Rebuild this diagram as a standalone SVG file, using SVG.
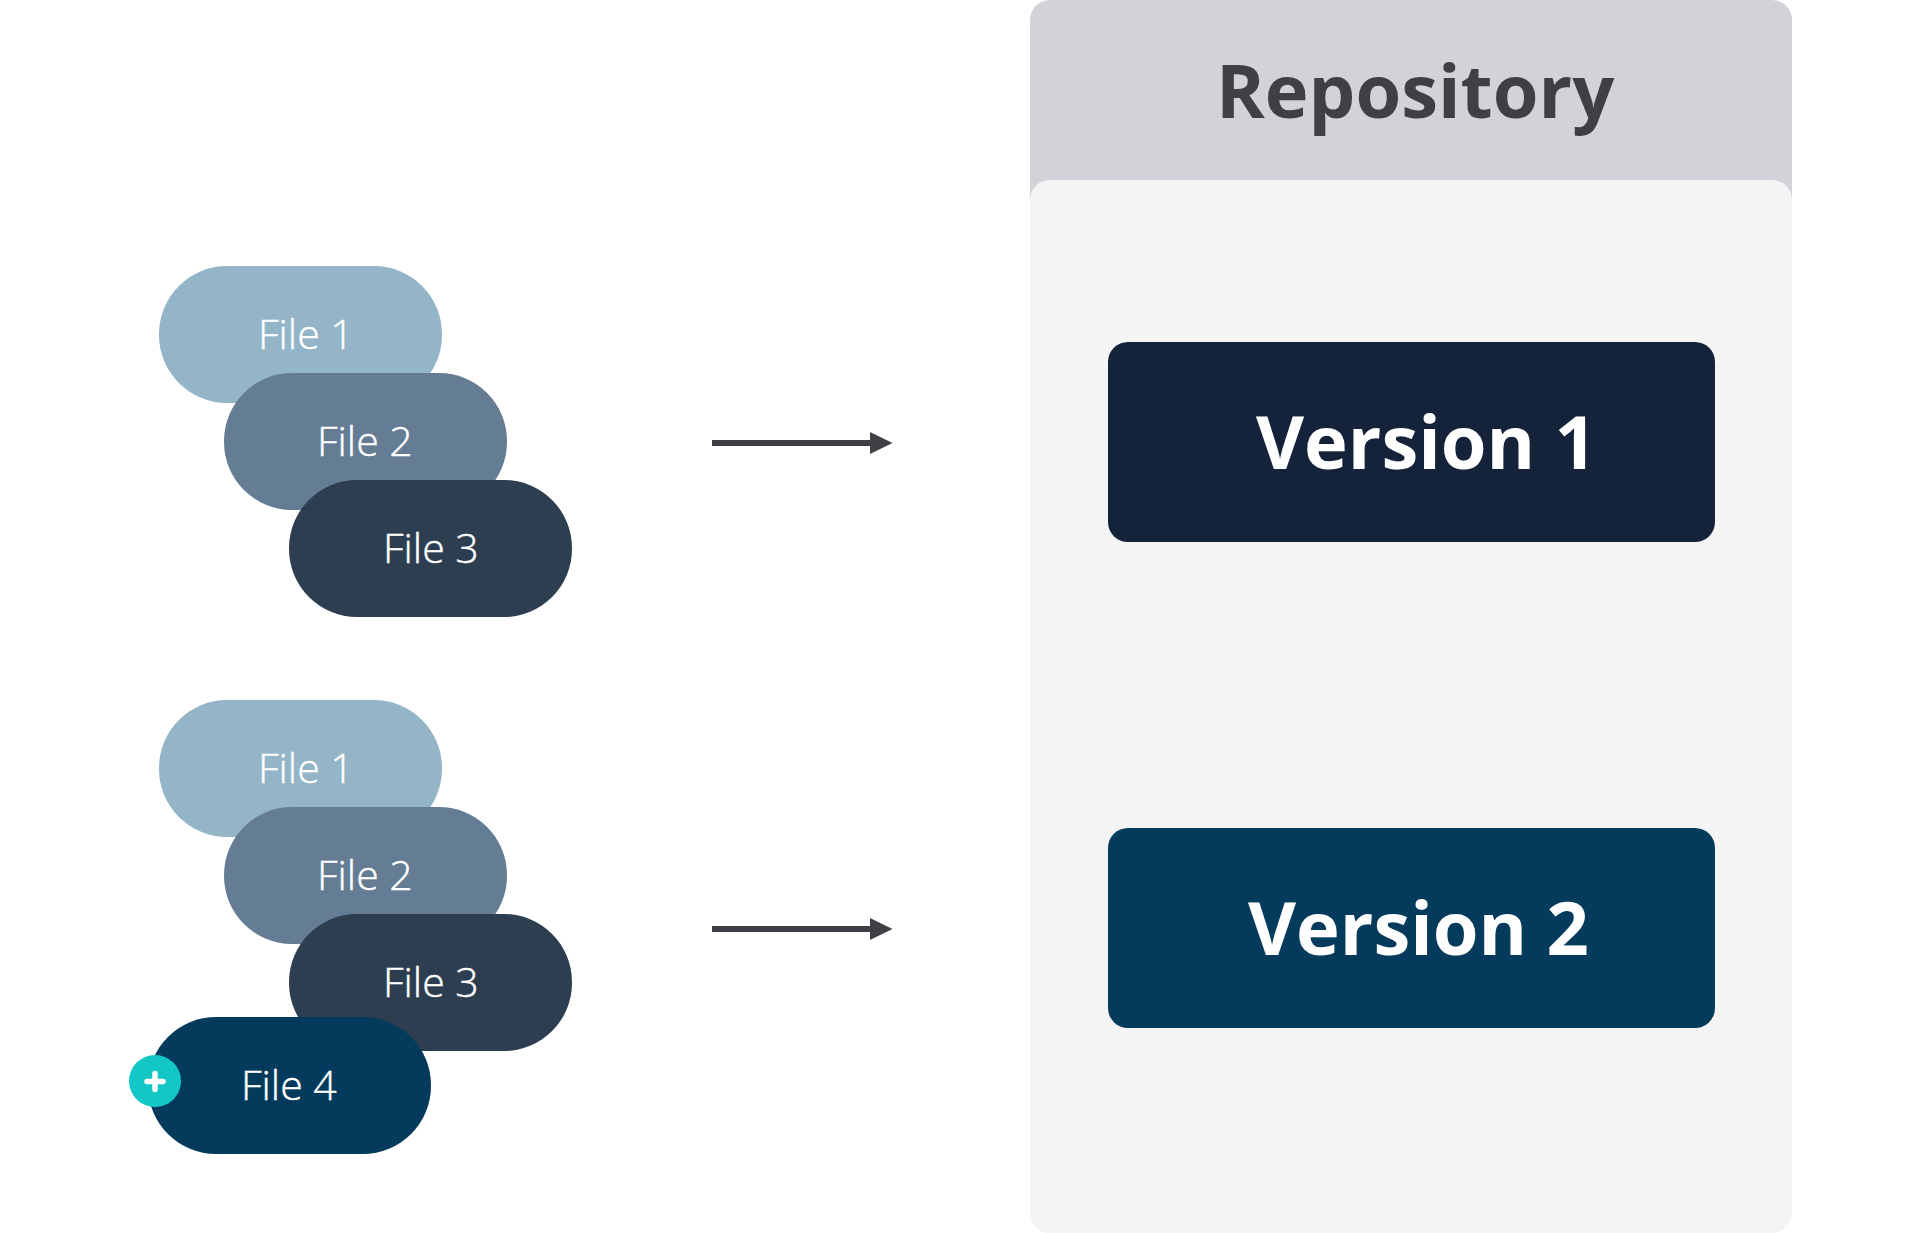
<svg xmlns="http://www.w3.org/2000/svg" width="1920" height="1233" viewBox="0 0 1920 1233">
<style>
text{font-family:"Open Sans","Noto Sans",sans-serif}
.file{font-size:41px;font-weight:300;fill:#fff;stroke:#fff;stroke-width:.4px}
.big{font-size:74px;font-weight:700}
.pill{width:283px;height:137px}
.conn{stroke:#3f3f46;stroke-width:6;fill:none}
</style>
<defs>
<marker id="arrow" markerUnits="userSpaceOnUse" markerWidth="23" markerHeight="22" refX="1" refY="11" orient="auto"><path d="M0 0L22.5 11L0 22Z" fill="#3f3f46"/></marker>
</defs>
<rect width="1920" height="1233" fill="#fff"/>
<g id="repository">
<rect x="1030" y="0" width="762" height="240" rx="20" ry="20" fill="#d2d2d8"/>
<rect x="1030" y="180" width="762" height="1053" rx="20" ry="20" fill="#f4f4f4"/>
<text class="big" x="1216" y="118" fill="#3f3f46">Repository</text>
</g>
<g id="file1a"><rect class="pill" x="159" y="266" rx="68" ry="68" fill="#94b4c8"/><text class="file" x="258" y="349">File 1</text></g>
<g id="file2a"><rect class="pill" x="224" y="373" rx="68" ry="68" fill="#647d94"/><text class="file" x="317" y="456">File 2</text></g>
<g id="file3a"><rect class="pill" x="289" y="480" rx="68" ry="68" fill="#2d3e50"/><text class="file" x="383" y="563">File 3</text></g>
<g id="file1b"><rect class="pill" x="159" y="700" rx="68" ry="68" fill="#94b4c8"/><text class="file" x="258" y="783">File 1</text></g>
<g id="file2b"><rect class="pill" x="224" y="807" rx="68" ry="68" fill="#647d94"/><text class="file" x="317" y="890">File 2</text></g>
<g id="file3b"><rect class="pill" x="289" y="914" rx="68" ry="68" fill="#2d3e50"/><text class="file" x="383" y="997">File 3</text></g>
<g id="file4"><rect class="pill" x="148" y="1017" rx="68" ry="68" fill="#043b5c"/><text class="file" x="241" y="1100">File 4</text>
<circle cx="155" cy="1081" r="26" fill="#13c7c7"/>
<path d="M147 1081.5H163M155 1073.5V1089.5" stroke="#fff" stroke-width="5.5" stroke-linecap="round" fill="none"/></g>
<g id="version1"><rect x="1108" y="342" width="607" height="200" rx="20" ry="20" fill="#14233a"/><text class="big" x="1256" y="469" fill="#fff">Version 1</text></g>
<g id="version2"><rect x="1108" y="828" width="607" height="200" rx="20" ry="20" fill="#043b5c"/><text class="big" x="1248" y="955" fill="#fff">Version 2</text></g>
<g id="connectors">
<path class="conn" d="M712 443H871" marker-end="url(#arrow)"/>
<path class="conn" d="M712 929H871" marker-end="url(#arrow)"/>
</g>
</svg>
